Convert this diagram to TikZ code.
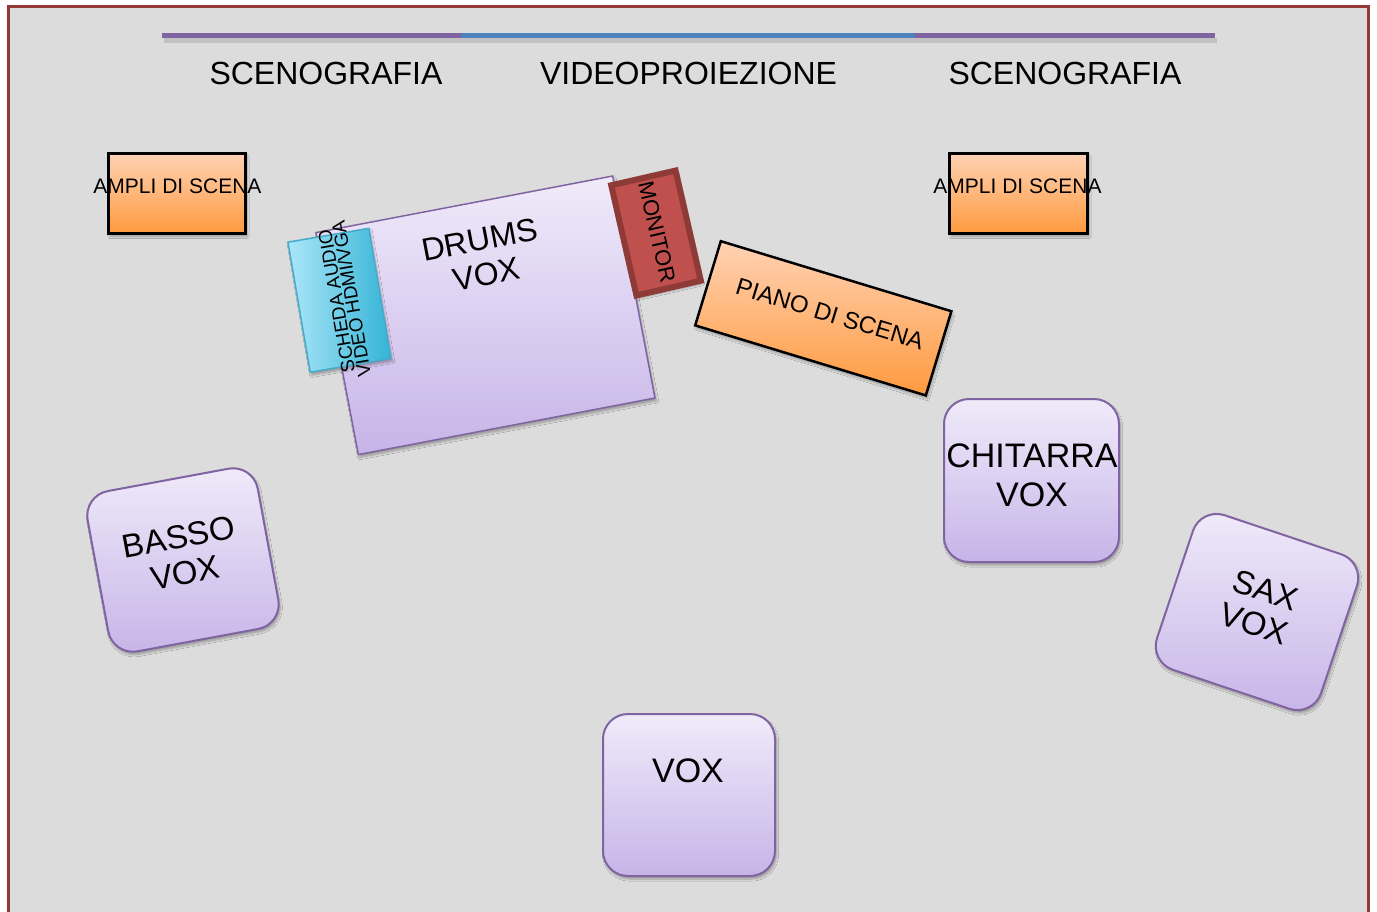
\documentclass[tikz,border=0pt]{standalone}
\usepackage{fontspec}
\setmainfont{Liberation Sans}
\usepackage{tikz}
\usetikzlibrary{shadows.blur}

\definecolor{palco}{HTML}{DCDCDC}
\definecolor{cornice}{HTML}{953735}
\definecolor{viola}{HTML}{8064A2}
\definecolor{blu}{HTML}{4F81BD}
\definecolor{aranciochiaro}{HTML}{FFD2B4}
\definecolor{arancio}{HTML}{FF9A3E}
\definecolor{lilla}{HTML}{F0EBFA}
\definecolor{lillascuro}{HTML}{C7B4E8}
\definecolor{azzurro}{HTML}{ABE6F8}
\definecolor{ciano}{HTML}{34B4D6}
\definecolor{bordociano}{HTML}{46AACB}
\definecolor{rosso}{HTML}{C0504D}
\definecolor{rossoscuro}{HTML}{8E3B38}

\newcommand{\fs}[2]{\fontsize{#1}{#2}\selectfont}

\begin{document}
\begin{tikzpicture}[x=1pt,y=-1pt,
    ombra/.style={blur shadow={shadow xshift=1.5pt,shadow yshift=-3pt,shadow opacity=30,shadow blur steps=6}},
    ampli/.style={draw=black,line width=2.5pt,top color=aranciochiaro,bottom color=arancio,ombra},
    cassa/.style={draw=viola,line width=1.5pt,top color=lilla,bottom color=lillascuro,ombra},
    voce/.style={draw=viola,line width=2pt,rounded corners=25pt,top color=lilla,bottom color=lillascuro,ombra,minimum width=173pt,minimum height=163pt},
    scheda/.style={draw=bordociano,line width=1.5pt,left color=azzurro,right color=ciano,ombra},
    monitor/.style={draw=rossoscuro,line width=6pt,fill=rosso,ombra},
    testo/.style={inner sep=0pt,text=black,align=center},
    linea/.style={line width=5pt}]
    \useasboundingbox (0,0) rectangle (1377,911);
    \fill[white] (0,0) rectangle (1377,911);
    \fill[palco] (8,6) rectangle (1368,920);
    \draw[cornice,line width=3pt] (8,920) -- (8,6) -- (1368,6) -- (1368,920);
    % fondale
    \draw[linea,black,opacity=.12] (164,40) -- (1217,40);
    \draw[linea,viola] (162,35) -- (461,35);
    \draw[linea,blu] (461,35) -- (915,35);
    \draw[linea,viola] (915,35) -- (1215,35);
    \node[testo,font=\fs{32}{36}] at (326,73) (scenosx) {SCENOGRAFIA};
    \node[testo,font=\fs{32}{36}] at (688.5,73) (video) {VIDEOPROIEZIONE};
    \node[testo,font=\fs{32}{36}] at (1065,73) (scenodx) {SCENOGRAFIA};
    % palco
    \node[ampli,minimum width=137pt,minimum height=80pt] at (177,193.5) (amplisx) {};
    \node[testo,font=\fs{21}{25}] at (177.5,186) (amplisxtxt) {AMPLI DI SCENA};
    \node[ampli,minimum width=138pt,minimum height=80pt] at (1018.5,193.5) (amplidx) {};
    \node[testo,font=\fs{21}{25}] at (1017.5,186) (amplidxtxt) {AMPLI DI SCENA};
    \node[cassa,rotate=10.8,minimum width=302pt,minimum height=226pt] at (485.5,315.3) (drums) {};
    \node[testo,rotate=10.8,font=\fs{32}{35}] at (483,257) (drumstxt) {DRUMS\\VOX};
    \node[scheda,rotate=9.7,minimum width=82pt,minimum height=132pt] at (339.5,300.3) (scheda) {};
    \node[testo,rotate=99.7,font=\fs{19}{15}] at (344,300) (schedatxt) {SCHEDA AUDIO\\VIDEO HDMI/VGA};
    \node[monitor,rotate=12.9,minimum width=66pt,minimum height=113pt] at (656,233) (monitor) {};
    \node[testo,rotate=-77.1,font=\fs{22}{26}] at (657,232) (monitortxt) {MONITOR};
    \node[ampli,rotate=-16.9,minimum width=241pt,minimum height=88pt] at (823.3,318.3) (piano) {};
    \node[testo,rotate=-16.9,font=\fs{24}{28}] at (830,314) (pianotxt) {PIANO DI SCENA};
    \node[voce,rotate=10.5] at (183,560) (basso) {};
    \node[testo,rotate=10.5,font=\fs{33}{36}] at (182,555) (bassotxt) {BASSO\\VOX};
    \node[voce,minimum width=175pt] at (1031.5,480.5) (chitarra) {};
    \node[testo,font=\fs{34}{39}] at (1032,475) (chitarratxt) {CHITARRA\\VOX};
    \node[voce,rotate=-18.5] at (1257,612) (sax) {};
    \node[testo,rotate=-18.5,font=\fs{33}{36}] at (1260,607) (saxtxt) {SAX\\VOX};
    \node[voce,minimum width=172pt,minimum height=162pt] at (689,795) (vox) {};
    \node[testo,font=\fs{34}{39}] at (688,771) (voxtxt) {VOX};
\end{tikzpicture}
\end{document}
